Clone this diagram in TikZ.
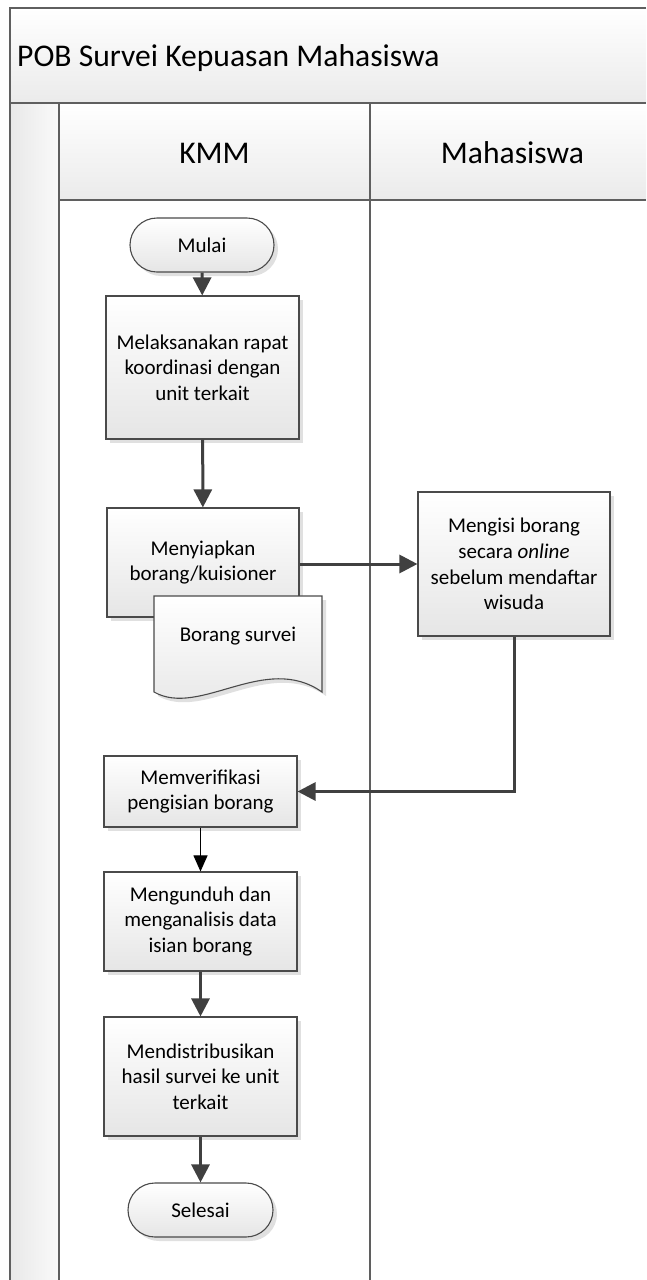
\documentclass[tikz,border=0pt]{standalone}
\usepackage{fontspec}
\setmainfont{Carlito}
\usetikzlibrary{arrows.meta,shadows}
\definecolor{lineg}{HTML}{5F5F5F}
\definecolor{arrowg}{HTML}{404040}
\definecolor{boxedge}{HTML}{4A4A4A}
\begin{document}
\begin{tikzpicture}[x=1pt,y=-1pt,
  every node/.style={font=\fontsize{21}{25.6}\selectfont, inner sep=0pt},
  boxshadow/.style={drop shadow={shadow xshift=4pt, shadow yshift=-4pt, fill=black!12, opacity=1}},
  procbox/.style={draw=boxedge, line width=1.1pt, top color=white, bottom color=black!10, minimum width=193pt, align=center, boxshadow},
  term/.style={procbox, rounded corners=27pt, minimum width=144pt, minimum height=54pt},
  flowarrow/.style={draw=arrowg, line width=3pt, -{Triangle[length=18pt,width=18pt]}},
  thinarrow/.style={draw=black, line width=1pt, -{Triangle[length=16pt,width=14pt]}},
  frameline/.style={draw=lineg, line width=1.3pt},
  headtext/.style={font=\fontsize{31.6}{36}\selectfont}
]
\useasboundingbox (0,0) rectangle (646,1280);
% pool background bands
\path[top color=white, bottom color=black!8] (10,8) rectangle (646,103);
\path[top color=white, bottom color=black!8] (59,103) rectangle (646,200);
\path[left color=black!9, right color=black!2] (10,103) rectangle (59,1280);
% frame lines
\draw[frameline] (646,8) -- (10,8) -- (10,1280);
\draw[frameline] (10,103) -- (646,103);
\draw[frameline] (59,103) -- (59,1280);
\draw[frameline] (59,200) -- (646,200);
\draw[frameline] (370,103) -- (370,1280);
% headings
\node[headtext, anchor=base west] (title) at (17,66) {POB Survei Kepuasan Mahasiswa};
\node[headtext, anchor=base] (kmm) at (214.5,163) {KMM};
\node[headtext, anchor=base] (mhs) at (512.5,163) {Mahasiswa};
% flow nodes
\node[term] (mulai) at (202,245) {Mulai};
\node[procbox, minimum height=143pt] (b1) at (202.5,367.5) {Melaksanakan rapat\\koordinasi dengan\\unit terkait};
\node[procbox, minimum width=192pt, minimum height=109pt] (b2) at (203,562.5) {Menyiapkan\\borang/kuisioner};
\path[draw=boxedge, line width=1.1pt, top color=white, bottom color=black!10, boxshadow]
  (154,596) -- (322,596) -- (322,692) .. controls (265,652) and (200,718) .. (154,692) -- cycle;
\node (doc) at (238,636) {Borang survei};
\node[procbox, minimum width=192pt, minimum height=144pt] (b3) at (514,564) {Mengisi borang\\secara \textit{online}\\sebelum mendaftar\\wisuda};
\node[procbox, minimum height=71pt] (b4) at (200.5,791.5) {Memverifikasi\\pengisian borang};
\node[procbox, minimum height=99pt] (b5) at (200.5,921.5) {Mengunduh dan\\menganalisis data\\isian borang};
\node[procbox, minimum height=119pt] (b6) at (200.5,1076.5) {Mendistribusikan\\hasil survei ke unit\\terkait};
\node[term, minimum width=145pt] (selesai) at (200.5,1210) {Selesai};
% connectors
\draw[flowarrow] (mulai) -- (b1);
\draw[flowarrow] (b1) -- (b2);
\draw[flowarrow] (b2.east |- b3.west) -- (b3.west);
\draw[flowarrow] (b3.south) |- (b4.east);
\draw[thinarrow] (b4) -- (b5);
\draw[flowarrow] (b5) -- (b6);
\draw[flowarrow] (b6) -- (selesai);
\end{tikzpicture}
\end{document}
